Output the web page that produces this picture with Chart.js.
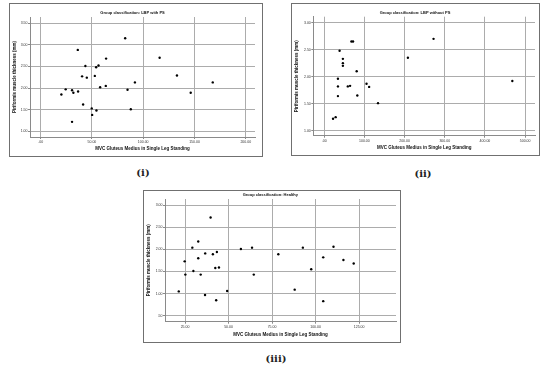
<!DOCTYPE html>
<html>
<head>
<meta charset="utf-8">
<script src="https://cdn.jsdelivr.net/npm/chart.js@4.4.0/dist/chart.umd.min.js"></script>
<style>
  body { margin: 0; background: #fff; width: 550px; height: 367px; position: relative; overflow: hidden; }
  .frame { position: absolute; box-sizing: border-box; border: 1px solid #707070; background: #fff; }
  .frame canvas { display: block; }
  .lbl { position: absolute; font-family: "DejaVu Serif", "Liberation Serif", serif; font-size: 10px; font-weight: bold; color: #222; transform: translate(-50%, -50%); }
</style>
</head>
<body>
<div class="frame" style="left:9px;top:3px;width:254px;height:154px"><canvas id="c1" width="252" height="152"></canvas></div>
<div class="frame" style="left:291px;top:3px;width:249px;height:153px"><canvas id="c2" width="247" height="151"></canvas></div>
<div class="frame" style="left:143px;top:190px;width:258px;height:153px"><canvas id="c3" width="256" height="151"></canvas></div>
<div class="lbl" style="left:143px;top:172px">(i)</div>
<div class="lbl" style="left:423px;top:173px">(ii)</div>
<div class="lbl" style="left:276px;top:358px">(iii)</div>

<script>
// LBP with PS
const lbpPsX = [20.2, 24.4, 30.6, 31.9, 36.5, 30.6, 36.2, 40.4, 43.6, 45.0, 41.4, 49.8, 50.2, 54.4,
  52.8, 54.1, 56.4, 58.0, 63.5, 63.8, 82.4, 84.7, 87.9, 91.9, 116.0, 132.9, 146.3, 167.8];
const lbpPsY = [1.85, 1.97, 1.95, 1.89, 1.92, 1.22, 2.88, 2.27, 2.51, 2.24, 1.62, 1.53, 1.38, 1.48,
  2.28, 2.48, 2.52, 2.02, 2.05, 2.68, 3.15, 1.96, 1.51, 2.13, 2.70, 2.29, 1.89, 2.13];

// LBP without PS
const lbpNoPsX = [22.1, 28.6, 34.3, 34.3, 34.3, 38.4, 46.6, 46.6, 46.6, 58.8, 64.5, 67.8, 71.9,
  80.9, 82.5, 105.4, 111.9, 134.0, 208.3, 272.1, 468.1];
const lbpNoPsY = [1.22, 1.25, 1.96, 1.82, 1.64, 2.48, 2.33, 2.25, 2.20, 1.82, 1.83, 2.65, 2.65,
  2.10, 1.65, 1.87, 1.81, 1.51, 2.35, 2.70, 1.92];

// Healthy
const healthyX = [21.4, 24.8, 25.2, 29.2, 29.8, 32.6, 32.6, 34.0, 36.5, 36.6, 39.7, 41.0, 42.4, 42.9,
  43.3, 44.5, 49.2, 57.1, 63.5, 64.5, 78.6, 88.0, 92.7, 97.5, 104.4, 104.4, 110.3, 116.0, 121.9];
const healthyY = [1.05, 1.73, 1.43, 2.04, 1.51, 2.18, 1.80, 1.43, 0.97, 1.91, 2.72, 1.89, 1.58, 0.85,
  1.94, 1.59, 1.06, 2.01, 2.04, 1.43, 1.89, 1.09, 2.04, 1.55, 1.82, 0.83, 2.06, 1.76, 1.68];

const xTicks1 = [0, 50, 100, 150, 200];
const xTicks2 = [0, 100, 200, 300, 400, 500];
const xTicks3 = [25, 50, 75, 100, 125];
const yTicks1 = [1.0, 1.5, 2.0, 2.5, 3.0, 3.5];
const yTicks2 = [1.0, 1.5, 2.0, 2.5, 3.0];
const yTicks3 = [0.5, 1.0, 1.5, 2.0, 2.5, 3.0];

const titles = ['Group classification: LBP with PS', 'Group classification: LBP without PS', 'Group classification: Healthy'];
const xTitle = 'MVC Gluteus Medius in Single Leg Standing';
const yTitle = 'Piriformis muscle thickness (mm)';

// SPSS style: 0.50 -> .50
function spss(v) {
  const s = Number(v).toFixed(2);
  return s.startsWith('0') ? s.slice(1) : s;
}

const FONT = '"Liberation Sans", Arial, sans-serif';
const GRID = '#acacac';
const AXIS = '#8a8a8a';

function makePanel(id, title, xs, ys, xTicks, yTicks, r) {
  const pts = xs.map((x, i) => ({ x: x, y: ys[i] }));
  new Chart(document.getElementById(id), {
    type: 'scatter',
    data: { datasets: [{ data: pts, backgroundColor: '#000', borderColor: '#000', pointRadius: 1.2, pointBorderWidth: 0 }] },
    options: {
      responsive: false,
      animation: false,
      devicePixelRatio: 1,
      layout: { padding: { left: 0, right: r.padRight, top: 0, bottom: 0 } },
      plugins: {
        legend: { display: false },
        tooltip: { enabled: false },
        title: {
          display: true,
          text: title,
          color: '#111',
          font: { family: FONT, size: 4, weight: 'bold', lineHeight: 1.2 },
          padding: { top: r.titleY - 2.4, bottom: r.top - r.titleY - 2.4 }
        }
      },
      scales: {
        x: {
          type: 'linear',
          min: r.xMin, max: r.xMax,
          afterBuildTicks: (s) => { s.ticks = xTicks.map(v => ({ value: v })); },
          afterFit: (s) => { s.height = r.xHeight; },
          ticks: { font: { family: FONT, size: 3.5 }, color: '#333', padding: 1, maxRotation: 0, autoSkip: false, callback: spss },
          grid: { color: GRID, lineWidth: 1, tickLength: 2, tickColor: AXIS },
          border: { color: AXIS, width: 1 },
          title: { display: true, text: xTitle, color: '#111', font: { family: FONT, size: 4.5, weight: 'bold', lineHeight: 1.2 }, padding: { top: 0, bottom: r.xTitleBottom } }
        },
        y: {
          type: 'linear',
          min: r.yMin, max: r.yMax,
          afterBuildTicks: (s) => { s.ticks = yTicks.map(v => ({ value: v })); },
          afterFit: (s) => { s.width = r.left; },
          ticks: { font: { family: FONT, size: 3.5 }, color: '#333', padding: 0.5, autoSkip: false, callback: spss },
          grid: { color: GRID, lineWidth: 1, tickLength: 2, tickColor: AXIS },
          border: { color: AXIS, width: 1 },
          title: { display: true, text: yTitle, color: '#111', font: { family: FONT, size: 4.5, weight: 'bold', lineHeight: 1.2 }, padding: { top: 2, bottom: 0 } }
        }
      }
    }
  });
}

makePanel('c1', titles[0], lbpPsX, lbpPsY, xTicks1, yTicks1,
  { left: 20, padRight: 7, top: 13, titleY: 9.3, xHeight: 19, xTitleBottom: 4.3, xMin: -10.4, xMax: 209, yMin: 0.87, yMax: 3.64 });
makePanel('c2', titles[1], lbpNoPsX, lbpNoPsY, xTicks2, yTicks2,
  { left: 21.3, padRight: 1, top: 12.7, titleY: 9.3, xHeight: 19.3, xTitleBottom: 4.3, xMin: -27, xMax: 524.5, yMin: 0.907, yMax: 3.11 });
makePanel('c3', titles[2], healthyX, healthyY, xTicks3, yTicks3,
  { left: 21, padRight: 3.3, top: 8, titleY: 4, xHeight: 20.3, xTitleBottom: 4.3, xMin: 13.5, xMax: 146.2, yMin: 0.365, yMax: 3.14 });
</script>
</body>
</html>
